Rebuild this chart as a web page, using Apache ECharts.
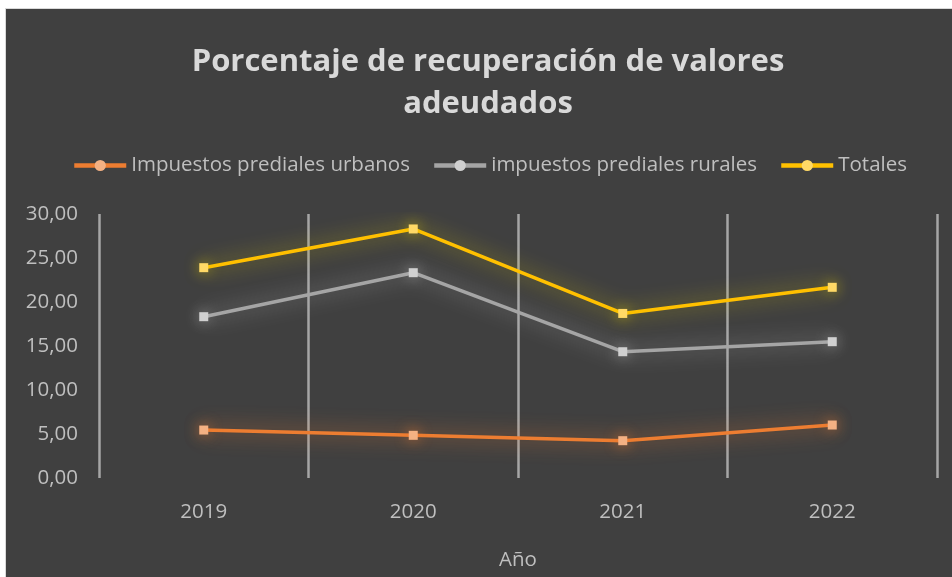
<!DOCTYPE html>
<html>
<head>
<meta charset="utf-8">
<script src="https://cdn.jsdelivr.net/npm/echarts@6/dist/echarts.min.js"></script>
<style>
html,body{margin:0;padding:0;background:#fff;width:952px;height:577px;overflow:hidden;}
#frame{position:absolute;left:5px;top:8px;width:946px;height:568px;border-left:1px solid #d9d9d9;border-top:1px solid #d9d9d9;background:#404040;}
#chart{width:946px;height:568px;}
</style>
</head>
<body>
<div id="frame"><div id="chart"></div></div>
<script>
const categories = ['2019', '2020', '2021', '2022'];
const urbanos = [5.45, 4.85, 4.24, 6.02];
const rurales = [18.33, 23.33, 14.35, 15.49];
const totales = [23.90, 28.30, 18.70, 21.67];
const seriesNames = ['Impuestos prediales urbanos', 'impuestos prediales rurales', 'Totales'];
const yTicks = { min: 0, max: 30, interval: 5 };

const FONT = '"Open Sans", "Noto Sans", sans-serif';

function mkSeries(name, values, lineColor, markColor, glow) {
  return {
    name: name,
    type: 'line',
    symbol: 'circle',
    symbolSize: 9,
    data: values.map(v => ({ value: v, symbol: 'rect' })),
    lineStyle: { color: lineColor, width: 3.5, shadowBlur: 20, shadowColor: glow },
    itemStyle: { color: markColor, shadowBlur: 14, shadowColor: glow },
    emphasis: { disabled: true },
    z: 3
  };
}

const chart = echarts.init(document.getElementById('chart'), null, { renderer: 'canvas' });
chart.setOption({
  backgroundColor: '#404040',
  animation: false,
  title: {
    text: 'Porcentaje de recuperación de valores\nadeudados',
    left: 477,
    textAlign: 'center',
    top: 27,
    textStyle: {
      fontFamily: FONT,
      fontWeight: 'bold',
      fontSize: 31,
      lineHeight: 42,
      color: '#d9d9d9'
    }
  },
  legend: {
    data: seriesNames,
    top: 141,
    left: 61,
    itemWidth: 52,
    itemHeight: 14,
    itemGap: 22,
    lineStyle: { width: 4.5 },
    textStyle: { fontFamily: FONT, fontSize: 20.5, color: '#bfbfbf' }
  },
  grid: { left: 93, right: 15, top: 205, bottom: 99, containLabel: false },
  xAxis: {
    type: 'category',
    data: categories,
    boundaryGap: true,
    name: 'Año',
    nameLocation: 'middle',
    nameGap: 72,
    nameTextStyle: { fontFamily: FONT, fontSize: 20.5, color: '#bfbfbf' },
    axisLine: { show: false },
    axisTick: { show: false },
    axisLabel: { fontFamily: FONT, fontSize: 20.5, color: '#bfbfbf', margin: 24 },
    splitLine: { show: true, lineStyle: { color: '#a6a6a6', width: 2.5 } }
  },
  yAxis: {
    type: 'value',
    min: yTicks.min,
    max: yTicks.max,
    interval: yTicks.interval,
    axisLine: { show: false },
    axisTick: { show: false },
    splitLine: { show: false },
    axisLabel: {
      fontFamily: FONT, fontSize: 20.5, color: '#bfbfbf', margin: 21,
      formatter: v => v.toFixed(2).replace('.', ',')
    }
  },
  series: [
    mkSeries(seriesNames[0], urbanos, '#ED7D31', '#F4B183', 'rgba(237,125,49,0.85)'),
    mkSeries(seriesNames[1], rurales, '#A5A5A5', '#D0D0D0', 'rgba(200,200,200,0.65)'),
    mkSeries(seriesNames[2], totales, '#FFC000', '#FFD966', 'rgba(220,200,0,0.75)')
  ]
});
</script>
</body>
</html>
